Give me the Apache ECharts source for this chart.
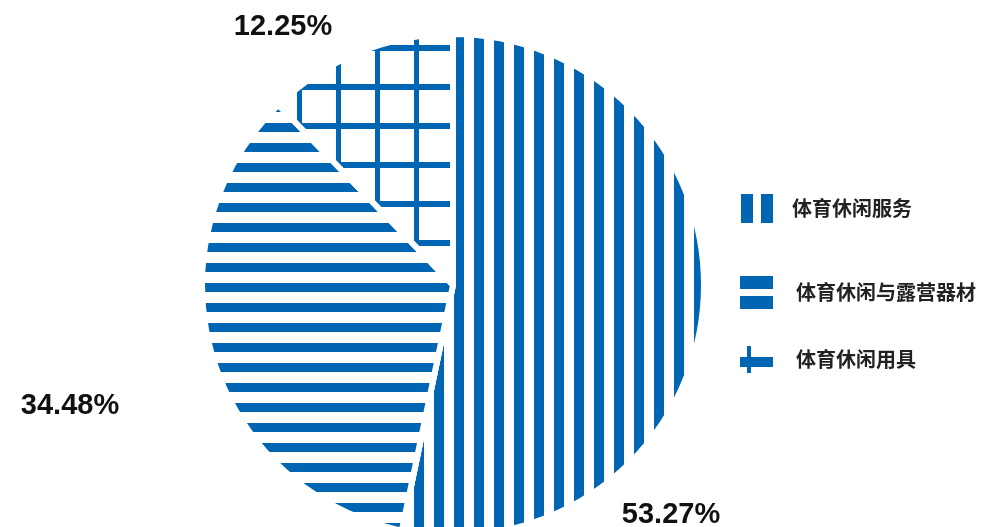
<!DOCTYPE html>
<html>
<head>
<meta charset="utf-8">
<script src="https://cdn.jsdelivr.net/npm/echarts@6/dist/echarts.min.js"></script>
<style>
  html, body { margin: 0; padding: 0; background: #ffffff; }
  #chart { width: 1002px; height: 527px; }
</style>
</head>
<body>
<div id="chart"></div>
<script>
// Segment names and their shares (%)
const categories = ['体育休闲服务', '体育休闲与露营器材', '体育休闲用具'];
const shares = [53.27, 34.48, 12.25];

const BLUE = '#0066b3';

// Fill patterns for the slices: vertical stripes, horizontal stripes, grid
const sliceDecals = [
  { symbol: 'rect', symbolKeepAspect: false, color: BLUE,
    dashArrayX: [4, 10, 6, 0], dashArrayY: [20, 0] },
  { symbol: 'rect', symbolKeepAspect: false, color: BLUE,
    dashArrayX: [20, 0], dashArrayY: [0, 3, 9, 8] },
  { symbol: 'rect', symbolKeepAspect: false, color: BLUE,
    dashArrayX: [[0, 24, 5, 10], [39, 0], [0, 24, 5, 10]],
    dashArrayY: [6, 0, 6, 0, 27, 0] }
];

// Same patterns, drawn a little heavier for the legend swatches
const legendDecals = [
  { symbol: 'rect', symbolKeepAspect: false, color: BLUE,
    dashArrayX: [12, 8], dashArrayY: [29, 0] },
  { symbol: 'rect', symbolKeepAspect: false, color: BLUE,
    dashArrayX: [33, 0], dashArrayY: [13, 7] },
  { symbol: 'rect', symbolKeepAspect: false, color: BLUE,
    dashArrayX: [[0, 7, 4, 22], [33, 0], [0, 7, 4, 22]],
    dashArrayY: [11, 0, 10, 0, 6, 0] }
];

// Legend entry placement (swatch box and gap before the text)
const legendSpots = [
  { left: 741, top: 194, w: 33, h: 29, gap: 13 },
  { left: 740, top: 276, w: 33, h: 33, gap: 18 },
  { left: 740, top: 346, w: 33, h: 27, gap: 18 }
];

// Where each percentage label sits
const labelSpots = [[671, 515], [70, 406], [283, 27]];

const chart = echarts.init(document.getElementById('chart'), null, { renderer: 'canvas' });

chart.setOption({
  animation: false,
  backgroundColor: '#ffffff',
  legend: legendSpots.map((s, i) => ({
    orient: 'vertical',
    left: s.left,
    top: s.top,
    padding: 0,
    itemWidth: s.w,
    itemHeight: s.h,
    icon: 'rect',
    selectedMode: false,
    textStyle: {
      fontFamily: 'Noto Sans CJK SC',
      fontSize: 20,
      fontWeight: 'bold',
      color: '#222222',
      padding: [0, 0, 0, s.gap]
    },
    data: [{
      name: categories[i],
      itemStyle: { borderWidth: 0, decal: legendDecals[i] }
    }]
  })),
  series: [{
    type: 'pie',
    center: [453, 285],
    radius: [0, 251],
    startAngle: 90,
    clockwise: true,
    avoidLabelOverlap: false,
    emphasis: { disabled: true },
    itemStyle: { color: '#ffffff', borderColor: '#ffffff', borderWidth: 6 },
    label: {
      show: true,
      position: 'outside',
      formatter: p => p.value.toFixed(2) + '%',
      fontFamily: 'Liberation Sans',
      fontSize: 29,
      fontWeight: 'bold',
      color: '#111111'
    },
    labelLine: { show: false },
    labelLayout: p => ({
      x: labelSpots[p.dataIndex][0],
      y: labelSpots[p.dataIndex][1],
      align: 'center',
      verticalAlign: 'middle'
    }),
    data: categories.map((name, i) => ({
      name: name,
      value: shares[i],
      itemStyle: { decal: sliceDecals[i] }
    }))
  }]
});
</script>
</body>
</html>
